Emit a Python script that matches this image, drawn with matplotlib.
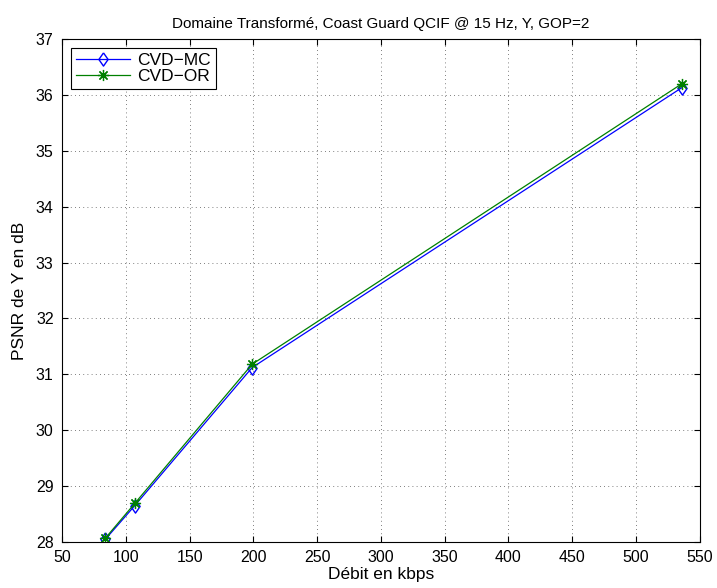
import matplotlib
matplotlib.use("Agg")
import matplotlib.pyplot as plt

plt.rcParams['font.family'] = ['Liberation Sans', 'DejaVu Sans']

debit = [84, 107, 199, 536]
psnr_mc = [28.05, 28.65, 31.12, 36.13]
psnr_or = [28.07, 28.69, 31.18, 36.20]
xticks = [50, 100, 150, 200, 250, 300, 350, 400, 450, 500, 550]
yticks = [28, 29, 30, 31, 32, 33, 34, 35, 36, 37]

diamond = [(0, 1), (0.7, 0), (0, -1), (-0.7, 0), (0, 1)]

fig = plt.figure(figsize=(7.17, 5.88), dpi=100)
ax = fig.add_axes([0.0865, 0.0782, 0.8895, 0.8555])
ax.plot(debit, psnr_mc, color='#0000ff', marker=diamond, markersize=9.5, markerfacecolor='none',
        markeredgecolor='#0000ff', markeredgewidth=1.0, linewidth=0.9, label='CVD\u2212MC')
ax.plot(debit, psnr_or, color='#008000', marker=(8, 2, 0), markersize=8, markeredgewidth=0.9,
        linewidth=0.9, label='CVD\u2212OR')
ax.set_xlim(50, 550)
ax.set_ylim(28, 37)
ax.set_xticks(xticks)
ax.set_yticks(yticks)
ax.grid(True, linestyle=(0, (1, 4)), color='#555555', linewidth=0.6)
ax.tick_params(direction='in', length=4, labelsize=11.5, top=True, right=True, pad=6)
for s in ax.spines.values():
    s.set_linewidth(0.8)
ax.set_xlabel('Débit en kbps', fontsize=12.5, labelpad=1)
ax.set_ylabel('PSNR de Y en dB', fontsize=12.5, labelpad=6)
ax.set_title('Domaine Transformé, Coast Guard QCIF @ 15 Hz, Y, GOP=2', fontsize=11, pad=8)
leg = ax.legend(loc='upper left', fontsize=12.5, fancybox=False, edgecolor='black',
                framealpha=1, borderaxespad=0.5, handlelength=3.1, handletextpad=0.4,
                borderpad=0.3, labelspacing=0.05)
leg.get_frame().set_linewidth(0.8)
fig.savefig('out.png', dpi=100)
